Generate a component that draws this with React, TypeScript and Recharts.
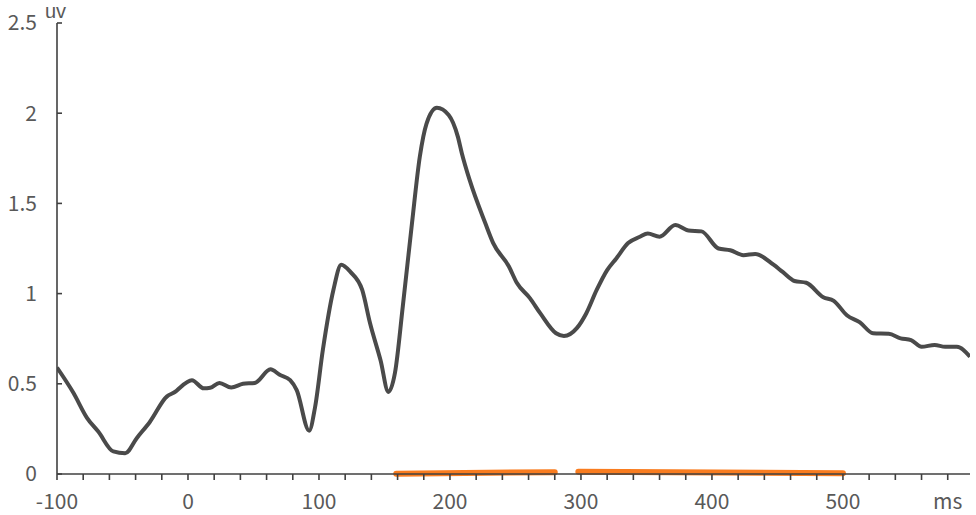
import { LineChart, Line, XAxis, YAxis } from "recharts";

// ERP waveform (ms, uV)
const times = [
  -100, -87.5, -77, -68.5, -57, -48, -39, -29, -16, -11, 3, 12, 17, 24, 33, 42, 51, 63, 70, 78, 83,
  92.5, 97, 103, 111, 117, 124, 133, 139, 147, 153, 158, 164, 171, 177, 182, 190, 199, 206, 209, 215,
  227, 233, 245, 251, 261, 269, 281, 287, 297, 304, 312, 320, 327, 336, 345, 351, 360, 372, 382, 392,
  405, 414, 424, 433, 447, 454, 463, 472, 485, 493, 503, 513, 523, 535, 544, 552, 560, 570, 578, 587,
  597,
];
const amplitude = [
  0.59, 0.45, 0.31, 0.235, 0.125, 0.115, 0.2, 0.29, 0.43, 0.45, 0.52, 0.475, 0.478, 0.505, 0.48, 0.5,
  0.505, 0.58, 0.55, 0.52, 0.465, 0.24, 0.37, 0.69, 1.02, 1.16, 1.12, 1.02, 0.835, 0.63, 0.455, 0.56,
  0.93, 1.39, 1.76, 1.94, 2.03, 1.99, 1.87, 1.78, 1.63, 1.39, 1.28, 1.15, 1.06, 0.975, 0.89, 0.78,
  0.765, 0.81, 0.89, 1.02, 1.13, 1.195, 1.28, 1.315, 1.333, 1.315, 1.38, 1.35, 1.345, 1.25, 1.24,
  1.213, 1.22, 1.16, 1.12, 1.07, 1.06, 0.98, 0.96, 0.88, 0.84, 0.78, 0.777, 0.752, 0.742, 0.705,
  0.715, 0.705, 0.705, 0.65,
];

// significant time windows (orange bars on the axis)
const window1 = [
  { t: 159, v: 0.002 },
  { t: 280, v: 0.01 },
];
const window2 = [
  { t: 298, v: 0.013 },
  { t: 500, v: 0.004 },
];

const xTicks = [
  -100, -80, -60, -40, -20, 0, 20, 40, 60, 80, 100, 120, 140, 160, 180, 200, 220, 240, 260, 280, 300,
  320, 340, 360, 380, 400, 420, 440, 460, 480, 500, 520, 540, 560, 580,
];
const xLabels = [-100, 0, 100, 200, 300, 400, 500];
const yTicks = [0, 0.5, 1, 1.5, 2, 2.5];

const wave = times.map((t, i) => ({ t, v: amplitude[i] }));

const FONT = '"Noto Sans CJK SC", "Noto Sans", sans-serif';
const tickStyle = { fill: "#595959", fontSize: 21, fontFamily: FONT };

export default function App() {
  return (
    <div style={{ position: "absolute", left: 0, top: 0, width: 976, height: 515, background: "#fff" }}>
      <LineChart width={976} height={515} margin={{ top: 23, right: 6, bottom: 11, left: 0 }}>
        <XAxis
          type="number"
          dataKey="t"
          domain={[-100, 597]}
          ticks={xTicks}
          interval={0}
          allowDataOverflow
          tickFormatter={(v: number) => (v === 580 ? "ms" : xLabels.includes(v) ? String(v) : "")}
          tick={tickStyle}
          tickSize={6}
          tickMargin={14}
          height={30}
          axisLine={{ stroke: "#404040", strokeWidth: 1.6 }}
          tickLine={{ stroke: "#404040", strokeWidth: 1.6 }}
        />
        <YAxis
          type="number"
          domain={[0, 2.5]}
          ticks={yTicks}
          interval={0}
          width={57}
          tick={tickStyle}
          tickSize={-5}
          tickMargin={25}
          axisLine={{ stroke: "#404040", strokeWidth: 1.6 }}
          tickLine={{ stroke: "#404040", strokeWidth: 1.6 }}
        />
        <Line
          data={wave}
          dataKey="v"
          type="monotone"
          stroke="#4a4a4a"
          strokeWidth={4}
          dot={false}
          isAnimationActive={false}
        />
        <Line
          data={window1}
          dataKey="v"
          type="linear"
          stroke="#f97c1f"
          strokeWidth={6}
          strokeLinecap="round"
          dot={false}
          isAnimationActive={false}
        />
        <Line
          data={window2}
          dataKey="v"
          type="linear"
          stroke="#f97c1f"
          strokeWidth={6}
          strokeLinecap="round"
          dot={false}
          isAnimationActive={false}
        />
      </LineChart>
      <span
        style={{
          position: "absolute",
          left: 45,
          top: 0,
          fontFamily: '"Liberation Sans", sans-serif',
          fontSize: 20,
          color: "#595959",
        }}
      >
        uv
      </span>
    </div>
  );
}
